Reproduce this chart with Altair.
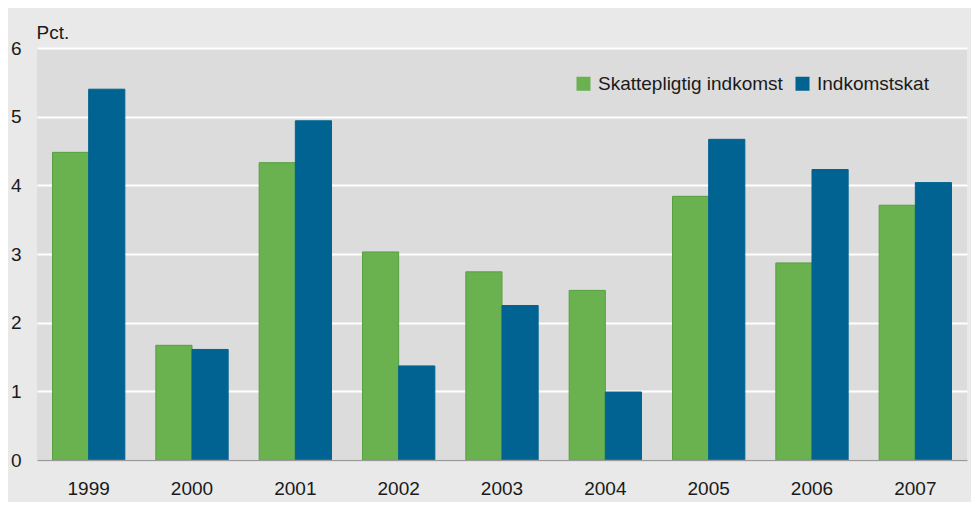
import altair as alt
import pandas as pd

years = ["1999", "2000", "2001", "2002", "2003", "2004", "2005", "2006", "2007"]
skattepligtig = [4.48, 1.67, 4.33, 3.03, 2.74, 2.47, 3.84, 2.87, 3.71]
indkomstskat = [5.40, 1.61, 4.94, 1.37, 2.25, 0.99, 4.67, 4.23, 4.04]
series = ["Skattepligtig indkomst", "Indkomstskat"]
colors = ["#6ab150", "#006391"]
strokes = ["#55a040", "#006391"]
y_ticks = [0, 1, 2, 3, 4, 5, 6]

rows = []
for i, yr in enumerate(years):
    rows.append({"year": yr, "serie": series[0], "value": skattepligtig[i]})
    rows.append({"year": yr, "serie": series[1], "value": indkomstskat[i]})
df = pd.DataFrame(rows)

font = "Liberation Sans"
fs = 19
txt = "#1a1a1a"

chart = alt.Chart(df).mark_bar(strokeWidth=1).encode(
    x=alt.X("year:N", sort=years,
            scale=alt.Scale(paddingInner=0.3, paddingOuter=0.15),
            axis=alt.Axis(title=None, labelAngle=0, ticks=False, labelPadding=19,
                          domainColor="#9a9a9a", domainWidth=1.5, labelFontSize=fs,
                          labelColor=txt, labelFont=font, grid=False, zindex=1)),
    xOffset=alt.XOffset("serie:N", sort=series,
                        scale=alt.Scale(domain=series, paddingInner=0, paddingOuter=0)),
    y=alt.Y("value:Q", scale=alt.Scale(domain=[0, 6], nice=False),
            axis=alt.Axis(values=y_ticks, title="Pct.", titleAngle=0, titleX=-1, titleY=-10,
                          titleAlign="left", titleBaseline="alphabetic",
                          titleFontWeight="normal", titleFontSize=fs, titleFont=font,
                          titleColor=txt, grid=True, gridColor="white", gridWidth=2,
                          domain=False, ticks=False, labelPadding=16, labelFontSize=fs,
                          labelFont=font, labelColor=txt)),
    color=alt.Color("serie:N", sort=series,
                    scale=alt.Scale(domain=series, range=colors),
                    legend=alt.Legend(title=None, orient="none", legendX=537, legendY=26,
                                      direction="horizontal", symbolType="square",
                                      symbolSize=196, symbolStrokeWidth=0,
                                      labelFontSize=fs, labelFont=font, labelColor=txt,
                                      labelLimit=400, labelOffset=5, columnPadding=10,
                                      padding=0)),
    stroke=alt.Stroke("serie:N", scale=alt.Scale(domain=series, range=strokes), legend=None),
).properties(
    width=930, height=412,
    autosize=alt.AutoSizeParams(type="none"),
    padding={"left": 29, "top": 40, "right": 4, "bottom": 42},
).configure(background="#e9e9e9").configure_view(fill="#dcdcdc", stroke=None)

chart.save("out.html", embed_options={"renderer": "svg", "actions": False})
